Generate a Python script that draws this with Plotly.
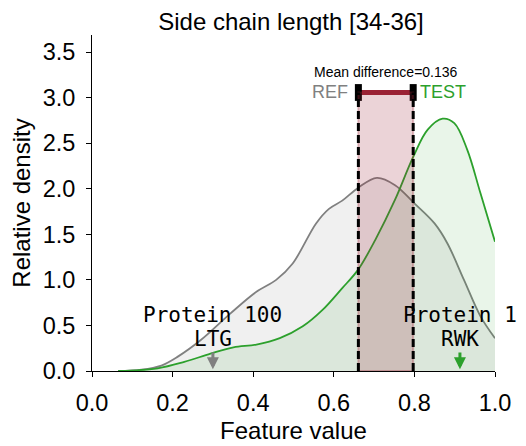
import plotly.graph_objects as go

# density curves
ref_x = [0.065, 0.123, 0.172, 0.212, 0.27, 0.343, 0.408, 0.457, 0.498, 0.556, 0.588, 0.621,
         0.66, 0.707, 0.752, 0.80, 0.85, 0.882, 0.923, 0.964, 1.0]
ref_y = [0.0, 0.015, 0.06, 0.155, 0.34, 0.63, 0.87, 1.0, 1.18, 1.62, 1.78, 1.87,
         2.01, 2.12, 2.04, 1.84, 1.62, 1.40, 1.0, 0.60, 0.36]

test_x = [0.065, 0.163, 0.229, 0.294, 0.351, 0.408, 0.466, 0.523, 0.572, 0.621, 0.66,
          0.703, 0.752, 0.797, 0.833, 0.870, 0.899, 0.931, 0.964, 1.0]
test_y = [0.0, 0.03, 0.10, 0.19, 0.26, 0.29, 0.36, 0.49, 0.67, 0.91, 1.11,
          1.44, 1.88, 2.35, 2.65, 2.77, 2.72, 2.43, 1.95, 1.42]

mean_ref = 0.661
mean_test = 0.797
mean_diff = 0.136
bar_y = 3.057

protein_names = ["Protein 100", "Protein 1"]
protein_codes = ["LTG", "RWK"]
protein_x = [0.30, 0.913]
protein_colors = ["#808080", "#2ca02c"]

GRAY = "#808080"
GREEN = "#2ca02c"
RED = "#9b2335"
MONO = "DejaVu Sans Mono"

fig = go.Figure()

fig.add_trace(go.Scatter(
    x=ref_x, y=ref_y, mode="lines", line=dict(color=GRAY, width=1.8, shape="spline"),
    fill="tozeroy", fillcolor="rgba(128,128,128,0.12)", hoverinfo="skip"))
fig.add_trace(go.Scatter(
    x=test_x, y=test_y, mode="lines", line=dict(color=GREEN, width=1.8, shape="spline"),
    fill="tozeroy", fillcolor="rgba(44,160,44,0.1)", hoverinfo="skip"))

# shaded band between the two means
fig.add_shape(type="rect", x0=mean_ref, x1=mean_test, y0=0, y1=bar_y,
              fillcolor="rgba(155,35,53,0.2)", line=dict(color="rgba(155,35,53,0.3)", width=2),
              layer="above")
for m in [mean_ref, mean_test]:
    fig.add_shape(type="line", x0=m, x1=m, y0=0, y1=bar_y,
                  line=dict(color="black", width=3, dash="8px,4px"), layer="above")

fig.add_trace(go.Scatter(
    x=[mean_ref, mean_test], y=[bar_y, bar_y], mode="lines+markers",
    line=dict(color=RED, width=5),
    marker=dict(symbol="line-ns", size=12, line=dict(color="black", width=7)),
    hoverinfo="skip"))

fig.add_annotation(x=(mean_ref + mean_test) / 2, y=bar_y, yshift=20, text=f"Mean difference={mean_diff}",
                   showarrow=False, font=dict(size=14, color="black"))
fig.add_annotation(x=mean_ref, y=bar_y, xshift=-8, text="REF", xanchor="right", showarrow=False,
                   font=dict(size=18, color=GRAY))
fig.add_annotation(x=mean_test, y=bar_y, xshift=5, text="TEST", xanchor="left", showarrow=False,
                   font=dict(size=18, color=GREEN))

for name, code, px_, col in zip(protein_names, protein_codes, protein_x, protein_colors):
    fig.add_annotation(x=px_, y=0.61, text=name, showarrow=False,
                       font=dict(family=MONO, size=21, color="black"))
    fig.add_annotation(x=px_, y=0.35, text=code, showarrow=False,
                       font=dict(family=MONO, size=21, color="black"))
    fig.add_annotation(x=px_, y=0.02, ax=px_, ay=0.22, axref="x", ayref="y", text="",
                       showarrow=True, arrowhead=2, arrowsize=0.8, arrowwidth=3, arrowcolor=col)

fig.update_layout(
    width=526, height=446,
    margin=dict(l=79, r=39, t=27, b=83),
    paper_bgcolor="white", plot_bgcolor="white",
    showlegend=False,
    font=dict(family="Liberation Sans, Arial", size=24, color="black"),
    title=dict(text="Side chain length [34-36]", x=0.538, xanchor="center", y=0.969, yanchor="middle",
               font=dict(size=24)),
)
fig.update_xaxes(range=[0, 1], tickvals=[0, 0.2, 0.4, 0.6, 0.8, 1.0], tickformat=".1f",
                 tickfont=dict(size=23.5), ticklabelstandoff=6,
                 showgrid=False, zeroline=False, showline=True, linecolor="black", linewidth=1,
                 ticks="outside", ticklen=5, tickcolor="black",
                 title=dict(text="Feature value", standoff=6, font=dict(size=24)))
fig.update_yaxes(range=[0, 3.688], tickvals=[0, 0.5, 1, 1.5, 2, 2.5, 3, 3.5], tickformat=".1f",
                 tickfont=dict(size=23.5), ticklabelstandoff=6,
                 showgrid=False, zeroline=False, showline=True, linecolor="black", linewidth=1,
                 ticks="outside", ticklen=5, tickcolor="black",
                 title=dict(text="Relative density", standoff=6, font=dict(size=24)))

fig.write_html("out.html")
